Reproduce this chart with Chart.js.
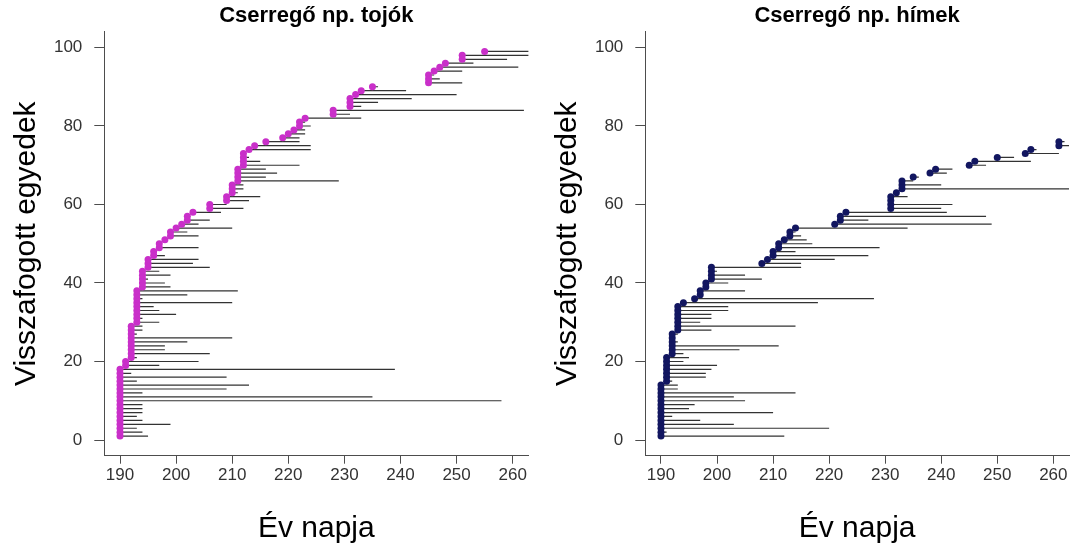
<!DOCTYPE html>
<html>
<head>
<meta charset="utf-8">
<title>Cserregő nádiposzáta visszafogások</title>
<script src="https://cdn.jsdelivr.net/npm/chart.js@4.4.1/dist/chart.umd.min.js"></script>
<style>
  html, body { margin: 0; padding: 0; background: #fff; }
  #wrap { position: relative; width: 1073px; height: 554px; overflow: hidden; }
  .panel { position: absolute; top: 0; }
  #left { left: 0; }
  #right { left: 541px; }
</style>
</head>
<body>
<div id="wrap">
  <div class="panel" id="left"><canvas id="femaleChart" width="536" height="554"></canvas></div>
  <div class="panel" id="right"><canvas id="maleChart" width="532" height="554"></canvas></div>
</div>
<script>
// first / last capture day (day of year) of each recaptured bird, ordered by first capture
const femaleFirst = [
  190, 190, 190, 190, 190, 190, 190, 190, 190, 190,
  190, 190, 190, 190, 190, 190, 190, 190, 191, 191,
  192, 192, 192, 192, 192, 192, 192, 192, 192, 193,
  193, 193, 193, 193, 193, 193, 193, 193, 194, 194,
  194, 194, 194, 195, 195, 195, 196, 196, 197, 197,
  198, 199, 199, 200, 201, 202, 202, 203, 206, 206,
  209, 209, 210, 210, 210, 211, 211, 211, 211, 212,
  212, 212, 212, 213, 214, 216, 219, 220, 221, 222,
  222, 223, 228, 228, 231, 231, 231, 232, 233, 235,
  245, 245, 245, 246, 247, 248, 251, 251, 255
];
const femaleLast = [
  195, 194, 193, 199, 194, 193, 194, 194, 194, 258,
  235, 194, 209, 213, 193, 209, 192, 239, 197, 204,
  193, 206, 198, 198, 202, 210, 193, 194, 194, 197,
  194, 200, 197, 196, 210, 194, 202, 211, 199, 198,
  195, 199, 197, 206, 203, 204, 198, 196, 204, 197,
  198, 204, 202, 210, 204, 206, 202, 208, 212, 209,
  213, 215, 211, 212, 212, 229, 216, 218, 216, 222,
  215, 213, 212, 224, 224, 222, 222, 223, 223, 224,
  223, 233, 231, 262, 233, 236, 242, 250, 241, 236,
  251, 247, 246, 251, 261, 253, 259, 263, 263
];
const maleFirst = [
  190, 190, 190, 190, 190, 190, 190, 190, 190, 190,
  190, 190, 190, 190, 191, 191, 191, 191, 191, 191,
  191, 192, 192, 192, 192, 192, 192, 193, 193, 193,
  193, 193, 193, 193, 194, 196, 197, 197, 198, 198,
  199, 199, 199, 199, 208, 209, 210, 210, 211, 211,
  212, 213, 213, 214, 221, 222, 222, 223, 231, 231,
  231, 231, 232, 233, 233, 233, 235, 238, 239, 245,
  246, 250, 255, 256, 261, 261
];
const maleLast = [
  212, 191, 220, 203, 197, 192, 210, 195, 196, 205,
  203, 214, 193, 193, 192, 198, 198, 199, 200, 194,
  195, 194, 204, 211, 193, 192, 193, 199, 214, 197,
  199, 199, 202, 202, 218, 228, 197, 205, 198, 202,
  208, 205, 200, 215, 215, 221, 227, 214, 229, 217,
  216, 215, 214, 234, 249, 227, 248, 241, 240, 242,
  231, 234, 232, 263, 240, 235, 236, 241, 242, 248,
  256, 253, 261, 257, 263, 262
];
const dayTicks = [190, 200, 210, 220, 230, 240, 250, 260];
const countTicks = [0, 20, 40, 60, 80, 100];

const FONT = "'Liberation Sans', Arial, Helvetica, sans-serif";
const AXIS = '#4d4d4d';
const LABEL = '#333333';

function makePanel(canvasId, title, first, last, dotColor, padRight) {
  // one gap-separated polyline for the stay lengths, one point set for first captures
  const stays = [];
  const firsts = [];
  first.forEach((f, k) => {
    const bird = k + 1;
    stays.push({ x: f, y: bird }, { x: last[k], y: bird }, { x: null, y: null });
    firsts.push({ x: f, y: bird });
  });

  return new Chart(document.getElementById(canvasId), {
    type: 'scatter',
    data: {
      datasets: [
        {
          data: firsts,
          xAxisID: 'x',
          yAxisID: 'y',
          order: 0,
          showLine: false,
          pointRadius: 3.5,
          pointBackgroundColor: dotColor,
          pointBorderWidth: 0
        },
        {
          data: stays,
          xAxisID: 'x',
          yAxisID: 'y',
          order: 1,
          showLine: true,
          spanGaps: false,
          borderColor: '#333333',
          borderWidth: 1.2,
          pointRadius: 0,
          clip: 0
        }
      ]
    },
    options: {
      responsive: false,
      animation: false,
      events: [],
      layout: { padding: { left: 0, right: padRight, top: 0, bottom: 0 } },
      plugins: {
        legend: { display: false },
        tooltip: { enabled: false },
        title: { display: false }
      },
      scales: {
        x: {
          type: 'linear',
          min: 187.2,
          max: 262.8,
          afterBuildTicks: s => { s.ticks = dayTicks.map(v => ({ value: v })); },
          afterFit: s => { s.height = 554 - 455.7; },
          grid: { display: true, drawOnChartArea: false, drawTicks: true, tickLength: 8, color: AXIS, lineWidth: 1 },
          border: { display: true, color: AXIS, width: 1 },
          ticks: { color: LABEL, font: { family: FONT, size: 17 }, padding: 1, maxRotation: 0, autoSkip: false },
          title: {
            display: true,
            text: 'Év napja',
            color: '#000',
            font: { family: FONT, size: 30 },
            padding: { top: 0, bottom: 7 }
          }
        },
        y: {
          type: 'linear',
          min: -4,
          max: 104,
          afterBuildTicks: s => { s.ticks = countTicks.map(v => ({ value: v })); },
          afterFit: s => { s.width = 104.3; },
          grid: { display: true, drawOnChartArea: false, drawTicks: true, tickLength: 10, color: AXIS, lineWidth: 1 },
          border: { display: true, color: AXIS, width: 1 },
          ticks: { color: LABEL, font: { family: FONT, size: 17 }, padding: 12, autoSkip: false },
          title: {
            display: true,
            text: 'Visszafogott egyedek',
            color: '#000',
            font: { family: FONT, size: 30 },
            padding: { top: 9, bottom: 0 }
          }
        },
        // empty top axis, used only to hold the panel title centred over the plot
        top: {
          type: 'linear',
          position: 'top',
          afterFit: s => { s.height = 31.8; },
          grid: { display: false },
          border: { display: false },
          ticks: { display: false },
          title: {
            display: true,
            text: title,
            color: '#000',
            font: { family: FONT, size: 22, weight: 'bold' },
            padding: { top: 3, bottom: 0 }
          }
        }
      }
    }
  });
}

makePanel('femaleChart', 'Cserregő np. tojók', femaleFirst, femaleLast, '#c92fc9', 7.6);
makePanel('maleChart', 'Cserregő np. hímek', maleFirst, maleLast, '#121660', 3.6);
</script>
</body>
</html>
